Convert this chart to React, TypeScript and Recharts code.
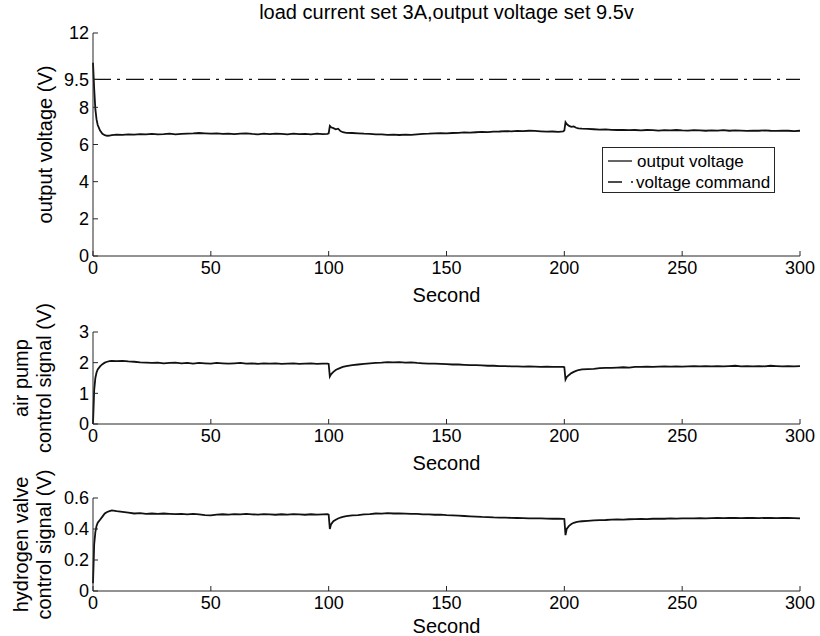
import { Line, LineChart, ReferenceLine, XAxis, YAxis } from "recharts";

const FONT = "'Liberation Sans', Arial, Helvetica, sans-serif";
const INK = "#111";
const AXIS = "#262626";

// time samples in seconds (denser around the start and the two load steps)
const time = [
  0, 0.5, 1, 1.5, 2, 3, 4, 5, 6, 7, 8, 10,
  12.5, 15, 17.5, 20, 22.5, 25, 27.5, 30, 32.5, 35,
  37.5, 40, 42.5, 45, 47.5, 50, 52.5, 55, 57.5, 60,
  62.5, 65, 67.5, 70, 72.5, 75, 77.5, 80, 82.5, 85,
  87.5, 90, 92.5, 95, 97.5,
  99.5, 100, 100.5, 101, 102, 103, 104, 105, 106,
  107.5, 110, 112.5, 115, 117.5, 120, 122.5, 125, 127.5, 130,
  132.5, 135, 137.5, 140, 142.5, 145, 147.5, 150, 152.5, 155,
  157.5, 160, 162.5, 165, 167.5, 170, 172.5, 175, 177.5, 180,
  182.5, 185, 187.5, 190, 192.5, 195, 197.5,
  199.5, 200, 200.5, 201, 202, 203, 204, 205, 206,
  207.5, 210, 212.5, 215, 217.5, 220, 222.5, 225, 227.5, 230,
  232.5, 235, 237.5, 240, 242.5, 245, 247.5, 250, 252.5, 255,
  257.5, 260, 262.5, 265, 267.5, 270, 272.5, 275, 277.5, 280,
  282.5, 285, 287.5, 290, 292.5, 295, 297.5, 300,
];

const outputVoltage = [
  10.4, 9.0, 7.9, 7.35, 7.05, 6.75, 6.58, 6.5, 6.47, 6.48, 6.5, 6.53,
  6.52, 6.55, 6.53, 6.56, 6.54, 6.57, 6.55, 6.56, 6.58, 6.55,
  6.57, 6.59, 6.6, 6.62, 6.6, 6.58, 6.6, 6.57, 6.59, 6.56,
  6.58, 6.6, 6.57, 6.55, 6.58, 6.56, 6.59, 6.57, 6.55, 6.58,
  6.56, 6.57, 6.55, 6.58, 6.56,
  6.57, 6.6, 7.0, 6.93, 6.88, 6.82, 6.85, 6.72, 6.66,
  6.63, 6.62, 6.6, 6.58, 6.57, 6.55, 6.54, 6.52, 6.53, 6.51,
  6.53, 6.52, 6.55, 6.57, 6.58, 6.6, 6.61, 6.6, 6.62, 6.63,
  6.65, 6.64, 6.66, 6.68, 6.67, 6.69, 6.7, 6.72, 6.71, 6.73,
  6.72, 6.74, 6.73, 6.71, 6.69, 6.7, 6.68,
  6.7, 6.75, 7.2, 7.1, 7.0, 6.95, 6.97, 6.9, 6.87,
  6.85, 6.84, 6.82, 6.8, 6.81, 6.79, 6.78, 6.79, 6.77, 6.78,
  6.76, 6.78, 6.77, 6.75, 6.77, 6.76, 6.78, 6.76, 6.75, 6.77,
  6.76, 6.74, 6.76, 6.75, 6.77, 6.74, 6.76, 6.75, 6.73, 6.75,
  6.74, 6.76, 6.74, 6.73, 6.75, 6.74, 6.72, 6.74,
];

const airPump = [
  0, 1.1, 1.5, 1.68, 1.78, 1.88, 1.95, 2.0, 2.03, 2.05, 2.06, 2.05,
  2.06, 2.04, 2.03, 2.01, 2.0, 1.99, 2.0, 1.98, 1.99, 2.0,
  1.98, 1.99, 1.97, 1.99, 1.98, 1.97, 1.99, 1.98, 1.97, 1.98,
  1.99, 1.97, 1.98, 1.96, 1.98, 1.97, 1.98, 1.96, 1.97, 1.98,
  1.96, 1.97, 1.98, 1.96, 1.97,
  1.97, 1.96, 1.55, 1.62, 1.7, 1.76, 1.8, 1.83, 1.86,
  1.89, 1.92, 1.94, 1.96, 1.98, 1.99, 2.0, 2.02, 2.01, 2.02,
  2.0, 2.01, 1.99, 1.98, 1.97, 1.97, 1.96, 1.95, 1.94, 1.94,
  1.93, 1.92, 1.92, 1.91, 1.9, 1.9, 1.89, 1.89, 1.88, 1.88,
  1.87, 1.88, 1.87, 1.86, 1.87, 1.86, 1.86,
  1.86, 1.85, 1.45, 1.53, 1.6, 1.66, 1.7, 1.73, 1.76,
  1.78, 1.79, 1.8, 1.82, 1.83, 1.83, 1.84, 1.85, 1.84, 1.86,
  1.86, 1.87, 1.86, 1.87, 1.88, 1.87, 1.88, 1.87, 1.88, 1.89,
  1.88, 1.89, 1.88, 1.89, 1.88, 1.89, 1.9, 1.88, 1.89, 1.88,
  1.89, 1.88, 1.9, 1.89, 1.88, 1.89, 1.88, 1.89,
];

const hydrogenValve = [
  0.05, 0.3, 0.38, 0.42, 0.44, 0.46, 0.48, 0.5, 0.51, 0.515, 0.52, 0.515,
  0.51, 0.505, 0.5, 0.502, 0.498, 0.5, 0.497, 0.5, 0.498, 0.496,
  0.498, 0.495, 0.497, 0.494, 0.49, 0.488, 0.493, 0.495, 0.493, 0.496,
  0.494, 0.497, 0.495, 0.493, 0.496, 0.494, 0.492, 0.495, 0.493, 0.496,
  0.494, 0.492, 0.495, 0.493, 0.494,
  0.495, 0.493, 0.4, 0.43, 0.45, 0.46, 0.468, 0.474, 0.478,
  0.483, 0.488, 0.49, 0.494, 0.496, 0.5, 0.499, 0.502, 0.5, 0.501,
  0.499, 0.497, 0.498, 0.495, 0.494, 0.492, 0.493, 0.49, 0.488, 0.486,
  0.484, 0.482, 0.48, 0.478, 0.477, 0.475, 0.474, 0.473, 0.472, 0.471,
  0.47, 0.469, 0.468, 0.468, 0.467, 0.466, 0.466,
  0.465, 0.464, 0.36, 0.4, 0.42, 0.432, 0.44, 0.445, 0.448,
  0.45, 0.453, 0.455, 0.457, 0.458, 0.46, 0.462, 0.461, 0.463, 0.464,
  0.465, 0.464, 0.466, 0.467, 0.466, 0.468, 0.467, 0.468, 0.469, 0.468,
  0.47, 0.469, 0.47, 0.471, 0.47, 0.472, 0.471, 0.47, 0.472, 0.471,
  0.47, 0.472, 0.471, 0.47, 0.472, 0.471, 0.47, 0.469,
];

const voltageCommand = 9.5;
const secondTicks = [0, 50, 100, 150, 200, 250, 300];
const voltageTicks = [0, 2, 4, 6, 8, 9.5, 12];
const pumpTicks = [0, 1, 2, 3];
const valveTicks = [0, 0.2, 0.4, 0.6];
const legendLabels = ["output voltage", "voltage command"];

const data = time.map((t, i) => ({
  t,
  voltage: outputVoltage[i],
  pump: airPump[i],
  valve: hydrogenValve[i],
}));

const PLOT_LEFT = 93;
const PLOT_RIGHT = 800;
const WIDTH = 820;
const Y_AXIS_W = 60;
const TICK_FONT = 18;
const LABEL_FONT = 20;

type PanelProps = {
  top: number;
  height: number;
  plotTop: number;
  plotBottom: number;
  dataKey: string;
  domain: [number, number];
  ticks: number[];
  yLabel: string[];
  labelXs: number[];
  secondOffset: number;
  children?: React.ReactNode;
};

function Panel({ top, height, plotTop, plotBottom, dataKey, domain, ticks, yLabel, labelXs, secondOffset, children }: PanelProps) {
  const cy = (plotTop + plotBottom) / 2;
  const cx = (PLOT_LEFT + PLOT_RIGHT) / 2;
  const tickStyle = { fill: "#000", fontSize: TICK_FONT, fontFamily: FONT };

  return (
    <div style={{ position: "absolute", left: 0, top, width: WIDTH, height }}>
      <LineChart
        width={WIDTH}
        height={height}
        data={data}
        margin={{ top: plotTop, right: WIDTH - PLOT_RIGHT, bottom: 0, left: PLOT_LEFT - Y_AXIS_W }}
      >
        <XAxis
          dataKey="t"
          type="number"
          domain={[0, 300]}
          ticks={secondTicks}
          interval={0}
          height={height - plotBottom}
          tickSize={-5}
          tickMargin={10}
          tick={tickStyle}
          tickLine={{ stroke: AXIS }}
          axisLine={{ stroke: AXIS }}
          label={() => (
            <text x={cx} y={plotBottom + secondOffset} textAnchor="middle" dominantBaseline="central" fontSize={LABEL_FONT} fontFamily={FONT} fill="#000">
              Second
            </text>
          )}
        />
        <XAxis
          xAxisId="top"
          orientation="top"
          type="number"
          domain={[0, 300]}
          ticks={secondTicks}
          interval={0}
          height={0}
          tickSize={-5}
          tick={false}
          tickLine={{ stroke: AXIS }}
          axisLine={{ stroke: AXIS }}
        />
        <YAxis
          type="number"
          domain={domain}
          ticks={ticks}
          interval={0}
          width={Y_AXIS_W}
          tickSize={-5}
          tickMargin={9}
          tick={tickStyle}
          tickLine={{ stroke: AXIS }}
          axisLine={{ stroke: AXIS }}
          label={() => (
            <g>
              {yLabel.map((line, i) => (
                <text
                  key={line}
                  x={labelXs[i]}
                  y={cy}
                  transform={`rotate(-90 ${labelXs[i]} ${cy})`}
                  textAnchor="middle"
                  dominantBaseline="central"
                  fontSize={LABEL_FONT}
                  fontFamily={FONT}
                  fill="#000"
                >
                  {line}
                </text>
              ))}
            </g>
          )}
        />
        <YAxis
          yAxisId="right"
          orientation="right"
          type="number"
          domain={domain}
          ticks={ticks}
          interval={0}
          width={0}
          tickSize={-5}
          tick={false}
          tickLine={{ stroke: AXIS }}
          axisLine={{ stroke: AXIS }}
        />
        {children}
        <Line
          type="linear"
          dataKey={dataKey}
          stroke={INK}
          strokeWidth={1.8}
          dot={false}
          isAnimationActive={false}
        />
      </LineChart>
    </div>
  );
}

export default function App() {
  return (
    <div style={{ position: "absolute", left: 0, top: 0, width: WIDTH, height: 636, background: "#fff", fontFamily: FONT, overflow: "hidden" }}>
      <div
        style={{
          position: "absolute",
          left: PLOT_LEFT,
          width: PLOT_RIGHT - PLOT_LEFT,
          top: 1,
          lineHeight: "22px",
          textAlign: "center",
          fontSize: LABEL_FONT,
          color: "#000",
        }}
      >
        load current set 3A,output voltage set 9.5v
      </div>

      <Panel
        top={0}
        height={312}
        plotTop={33}
        plotBottom={256}
        dataKey="voltage"
        domain={[0, 12]}
        ticks={voltageTicks}
        yLabel={["output voltage (V)"]}
        labelXs={[45]}
        secondOffset={39}
      >
        <ReferenceLine y={voltageCommand} stroke={INK} strokeWidth={1.3} strokeDasharray="18 6 3 6" />
      </Panel>

      <Panel
        top={300}
        height={180}
        plotTop={32}
        plotBottom={124}
        dataKey="pump"
        domain={[0, 3]}
        ticks={pumpTicks}
        yLabel={["air pump", "control signal (V)"]}
        labelXs={[21, 44]}
        secondOffset={39}
      />

      <Panel
        top={470}
        height={166}
        plotTop={28}
        plotBottom={121}
        dataKey="valve"
        domain={[0, 0.6]}
        ticks={valveTicks}
        yLabel={["hydrogen valve", "control signal (V)"]}
        labelXs={[21, 44]}
        secondOffset={35}
      />

      <svg width={174} height={47} style={{ position: "absolute", left: 602, top: 147 }}>
        <rect x={0.5} y={0.5} width={172} height={45} fill="#fff" stroke={AXIS} />
        <line x1={6} x2={30} y1={14} y2={14} stroke={INK} strokeWidth={1.3} />
        <text x={35} y={14} dominantBaseline="central" fontSize={17} fontFamily={FONT} fill="#000">
          {legendLabels[0]}
        </text>
        <line x1={6} x2={31} y1={35} y2={35} stroke={INK} strokeWidth={1.3} strokeDasharray="14 9 2 10" />
        <text x={34} y={35} dominantBaseline="central" fontSize={17} fontFamily={FONT} fill="#000">
          {legendLabels[1]}
        </text>
      </svg>
    </div>
  );
}
